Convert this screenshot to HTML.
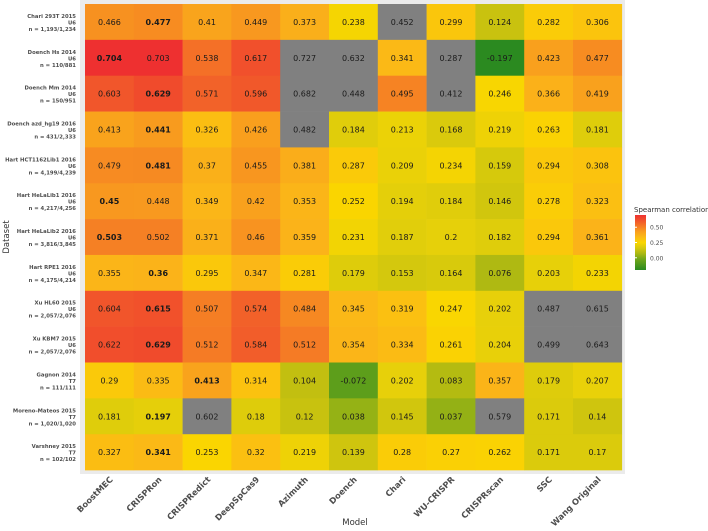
<!DOCTYPE html>
<html><head><meta charset="utf-8"><style>
body{margin:0;background:#fff;font-family:"DejaVu Sans","Liberation Sans",sans-serif}
svg{display:block;font-family:"DejaVu Sans","Liberation Sans",sans-serif}
</style></head><body>
<svg id="chart" width="708" height="531">
<rect x="80" y="0" width="545" height="474" fill="#ebebeb"/>
<g id="cells"></g>
<g id="ylabels"></g>
<g id="xlabels"></g>
<text x="355" y="525" font-size="8.5" fill="#333" text-anchor="middle">Model</text>
<text x="9" y="237" font-size="8.5" fill="#333" text-anchor="middle" transform="rotate(-90 9 237)">Dataset</text>
<g>
<text x="634" y="212" font-size="7" fill="#333">Spearman correlation</text>
<defs><linearGradient id="lg" x1="0" y1="1" x2="0" y2="0"></linearGradient></defs>
<rect x="635" y="215" width="11" height="55" fill="url(#lg)"/>
<g id="legticks"></g>
</g>
</svg>
<script>
const models=["BoostMEC","CRISPRon","CRISPRedict","DeepSpCas9","Azimuth","Doench","Chari","WU-CRISPR","CRISPRscan","SSC","Wang Original"];
const datasets=[["Chari 293T 2015","U6","n = 1,193/1,234"],["Doench Hs 2014","U6","n = 110/881"],["Doench Mm 2014","U6","n = 150/951"],["Doench azd_hg19 2016","U6","n = 431/2,333"],["Hart HCT1162Lib1 2016","U6","n = 4,199/4,239"],["Hart HeLaLib1 2016","U6","n = 4,217/4,256"],["Hart HeLaLib2 2016","U6","n = 3,816/3,845"],["Hart RPE1 2016","U6","n = 4,175/4,214"],["Xu HL60 2015","U6","n = 2,057/2,076"],["Xu KBM7 2015","U6","n = 2,057/2,076"],["Gagnon 2014","T7","n = 111/111"],["Moreno-Mateos 2015","T7","n = 1,020/1,020"],["Varshney 2015","T7","n = 102/102"]];
const values=[
[0.466,0.477,0.41,0.449,0.373,0.238,0.452,0.299,0.124,0.282,0.306],
[0.704,0.703,0.538,0.617,0.727,0.632,0.341,0.287,-0.197,0.423,0.477],
[0.603,0.629,0.571,0.596,0.682,0.448,0.495,0.412,0.246,0.366,0.419],
[0.413,0.441,0.326,0.426,0.482,0.184,0.213,0.168,0.219,0.263,0.181],
[0.479,0.481,0.37,0.455,0.381,0.287,0.209,0.234,0.159,0.294,0.308],
[0.45,0.448,0.349,0.42,0.353,0.252,0.194,0.184,0.146,0.278,0.323],
[0.503,0.502,0.371,0.46,0.359,0.231,0.187,0.2,0.182,0.294,0.361],
[0.355,0.36,0.295,0.347,0.281,0.179,0.153,0.164,0.076,0.203,0.233],
[0.604,0.615,0.507,0.574,0.484,0.345,0.319,0.247,0.202,0.487,0.615],
[0.622,0.629,0.512,0.584,0.512,0.354,0.334,0.261,0.204,0.499,0.643],
[0.29,0.335,0.413,0.314,0.104,-0.072,0.202,0.083,0.357,0.179,0.207],
[0.181,0.197,0.602,0.18,0.12,0.038,0.145,0.037,0.579,0.171,0.14],
[0.327,0.341,0.253,0.32,0.219,0.139,0.28,0.27,0.262,0.171,0.17]];
// excluded (gray) cells: [row, col]
const grayCells=[[0,6],[1,4],[1,5],[1,7],[2,4],[2,5],[2,7],[3,4],[8,9],[8,10],[9,9],[9,10],[11,2],[11,8]];
const boldCells=[[0,1],[1,0],[2,1],[3,1],[4,1],[5,0],[6,0],[7,1],[8,1],[9,1],[10,2],[11,1],[12,1]];
const legendTicks=[0,0.25,0.5];

const X0=85,Y0=4,CW=48.8,RH=35.85,NS="http://www.w3.org/2000/svg";
const xPos=c=>X0+c*CW, yPos=r=>Y0+r*RH;
const stops=[[-0.2,[42,138,32]],[0,[122,170,24]],[0.1,[192,190,16]],[0.2,[230,208,10]],[0.25,[250,214,0]],[0.35,[251,182,24]],[0.45,[248,152,31]],[0.55,[243,106,40]],[0.7,[238,48,48]]];
function color(v){
 if(v<=stops[0][0])return "rgb("+stops[0][1]+")";
 for(let i=1;i<stops.length;i++){if(v<=stops[i][0]){const a=stops[i-1],b=stops[i],t=(v-a[0])/(b[0]-a[0]);
 return "rgb("+a[1].map((x,k)=>Math.round(x+(b[1][k]-x)*t)).join(",")+")";}}
 return "rgb("+stops[stops.length-1][1]+")";}
const isIn=(arr,r,c)=>arr.some(p=>p[0]===r&&p[1]===c);
const cells=document.getElementById("cells");
values.forEach((row,r)=>row.forEach((v,c)=>{
 const rect=document.createElementNS(NS,"rect");
 rect.setAttribute("x",xPos(c));rect.setAttribute("y",yPos(r));rect.setAttribute("width",CW+0.3);rect.setAttribute("height",RH+0.3);
 rect.setAttribute("fill",isIn(grayCells,r,c)?"#808080":color(v));
 
 
 cells.appendChild(rect);
 const t=document.createElementNS(NS,"text");
 t.setAttribute("x",xPos(c)+CW/2);t.setAttribute("y",yPos(r)+RH/2+3);t.setAttribute("text-anchor","middle");
 t.setAttribute("font-size","8");t.setAttribute("fill","#1a1a1a");
 if(isIn(boldCells,r,c))t.setAttribute("font-weight","bold");
 t.textContent=String(v);
 
 
 cells.appendChild(t);
}));
const yl=document.getElementById("ylabels");
datasets.forEach((d,r)=>{
 const cy=yPos(r)+RH/2;
 d.forEach((s,i)=>{const t=document.createElementNS(NS,"text");
  t.setAttribute("x",76);t.setAttribute("y",cy-6+i*6.5+2);t.setAttribute("text-anchor","end");
  t.setAttribute("font-size","5.3");t.setAttribute("font-weight","bold");t.setAttribute("fill","#4d4d4d");
  t.textContent=s;
  
  
  yl.appendChild(t);});
});
const xl=document.getElementById("xlabels");
models.forEach((m,c)=>{
 const x=xPos(c)+CW/2+4,y=480;
 const t=document.createElementNS(NS,"text");
 t.setAttribute("x",x);t.setAttribute("y",y);t.setAttribute("text-anchor","end");
 t.setAttribute("font-size","8.3");t.setAttribute("font-weight","bold");t.setAttribute("fill","#4d4d4d");
 t.setAttribute("transform","rotate(-45 "+x+" "+y+")");
 t.textContent=m;
 
 
 xl.appendChild(t);
});
const lg=document.getElementById("lg");
for(let i=0;i<=10;i++){const v=-0.2+0.09*i;const s=document.createElementNS(NS,"stop");
 s.setAttribute("offset",(i*10)+"%");s.setAttribute("stop-color",color(v));lg.appendChild(s);}
const lt=document.getElementById("legticks");
const ly=v=>270-(v+0.2)/0.9*55;
legendTicks.forEach(v=>{
 const l=document.createElementNS(NS,"line");
 l.setAttribute("x1",635);l.setAttribute("x2",637);l.setAttribute("y1",ly(v));l.setAttribute("y2",ly(v));l.setAttribute("stroke","#fff");
 
 
 lt.appendChild(l);
 const t=document.createElementNS(NS,"text");
 t.setAttribute("x",650);t.setAttribute("y",ly(v)+2.5);t.setAttribute("font-size","6");t.setAttribute("fill","#4d4d4d");
 t.textContent=v.toFixed(2);
 
 
 lt.appendChild(t);
});
</script>
</body></html>
